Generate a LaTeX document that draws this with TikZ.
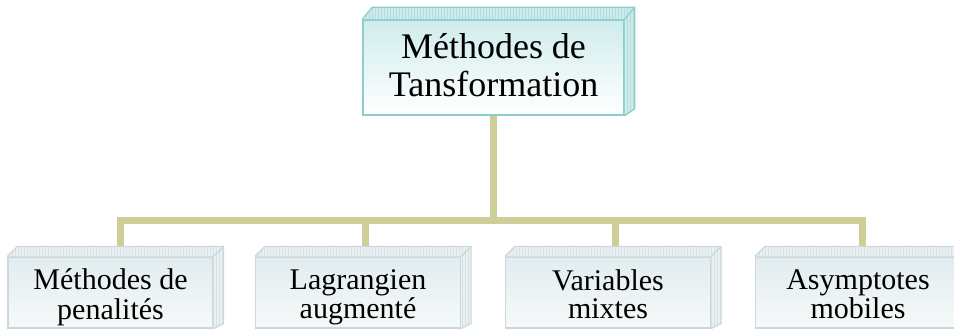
\documentclass[tikz,border=0pt]{standalone}
\usepackage{fontspec}
\setmainfont{Liberation Serif}
\definecolor{conn}{RGB}{206,206,152}
\definecolor{tealedge}{RGB}{140,206,204}
\definecolor{tealtop}{RGB}{208,236,236}
\definecolor{tealface}{RGB}{206,234,234}
\definecolor{tealgrid}{RGB}{176,222,220}
\definecolor{grayedge}{RGB}{200,216,220}
\definecolor{graytop}{RGB}{226,236,238}
\definecolor{grayface}{RGB}{234,240,241}
\definecolor{graygrid}{RGB}{214,226,228}
\newcommand\boxdepth[6]{%
  % #1 node, #2 face fill, #3 grid colour, #4 edge colour, #5 depth x, #6 depth y
  \begin{scope}
    \clip (#1.south east) -- (#1.north east) -- (#1.north west)
      -- ++(#5,-#6) -- ([shift={(#5,-#6)}]#1.north east)
      -- ([shift={(#5,-#6+5)}]#1.south east) -- cycle;
    \fill[#2] ([shift={(-2,5)}]#1.south west) rectangle ([shift={(#5+2,-#6-2)}]#1.north east);
    \draw[#3, line width=0.3pt, step=3] ([shift={(-2,5)}]#1.south west) grid ([shift={(#5+2,-#6-2)}]#1.north east);
  \end{scope}
  \draw[#4, line width=1.2pt, line join=round]
    (#1.north west) -- ++(#5,-#6) -- ([shift={(#5,-#6)}]#1.north east)
    -- ([shift={(#5,-#6+5)}]#1.south east) -- (#1.south east)
    (#1.north east) -- ([shift={(#5,-#6)}]#1.north east);
}
\newcommand\twolines[3]{\raisebox{#1}[\height][\depth]{\begin{tabular}{@{}c@{}}#2\\#3\end{tabular}}}
\tikzset{
  topbox/.style={draw=tealedge, line width=1.5pt, top color=tealtop, bottom color=white,
    minimum width=261pt, minimum height=95pt, inner sep=0pt,
    font=\fontsize{36}{38}\selectfont},
  subbox/.style={draw=grayedge, line width=1.2pt, top color=graytop, bottom color=white!70!graytop,
    minimum width=205pt, minimum height=71pt, inner sep=0pt,
    font=\fontsize{30}{28.5}\selectfont},
  link/.style={draw=conn, line width=7pt}
}
\begin{document}
\begin{tikzpicture}[x=1pt,y=-1pt]
\useasboundingbox (0,0) rectangle (954,331);
% junction and connector ends
\coordinate (j) at (493.5,221);
\coordinate (c1) at (120,247);
\coordinate (c2) at (365,247);
\coordinate (c3) at (615,247);
\coordinate (c4) at (862,247);
\draw[link, line join=miter] (c1) |- (j) -| (c4);
\draw[link] (c2) -- (c2 |- j);
\draw[link] (c3) -- (c3 |- j);
% nodes
\node[topbox] (top) at (493.5,67.5) {\twolines{-2pt}{Méthodes de}{Tansformation}};
\draw[link] (top.south) -- (j);
\node[subbox] (b1) at (110.5,292.5) {\twolines{-6pt}{Méthodes de}{penalités}};
\node[subbox] (b2) at (358,292.5) {\twolines{-6pt}{Lagrangien}{augmenté}};
\node[subbox] (b3) at (608,292.5) {\twolines{-6pt}{Variables}{mixtes}};
\node[subbox] (b4) at (858,292.5) {\twolines{-6pt}{Asymptotes}{mobiles}};
\boxdepth{top}{tealface}{tealgrid}{tealedge}{10}{12}
\boxdepth{b1}{grayface}{graygrid}{grayedge}{10}{10}
\boxdepth{b2}{grayface}{graygrid}{grayedge}{10}{10}
\boxdepth{b3}{grayface}{graygrid}{grayedge}{10}{10}
\boxdepth{b4}{grayface}{graygrid}{grayedge}{10}{10}
\end{tikzpicture}
\end{document}
